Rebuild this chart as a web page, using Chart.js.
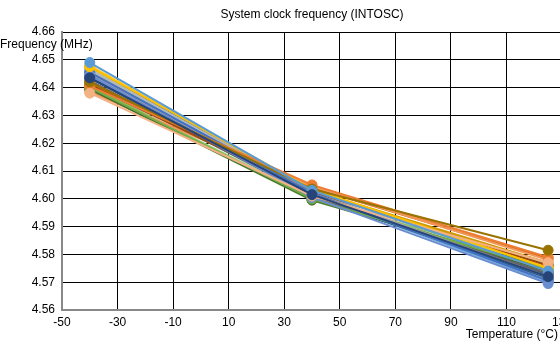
<!DOCTYPE html>
<html>
<head>
<meta charset="utf-8">
<script src="https://cdn.jsdelivr.net/npm/chart.js@4/dist/chart.umd.min.js"></script>
<style>
    html, body { margin: 0; padding: 0; background: #fff; overflow: hidden; }
    #wrap { width: 560px; height: 354px; overflow: hidden; }
    canvas { display: block; }
</style>
</head>
<body>
<div id="wrap">
    <canvas id="chart" width="624" height="354" style="width:624px;height:354px"></canvas>
</div>
<script>
const temps = [-40, 40, 125]
const xTicks = [-50, -30, -10, 10, 30, 50, 70, 90, 110, 130]

// one entry per device, frequency in MHz at each temperature
const freqMinus40 = [4.6435, 4.6490, 4.6380, 4.6420, 4.6405, 4.6475, 4.6445, 4.6455,
                     4.6450, 4.6400, 4.6410, 4.6425, 4.6445, 4.6395, 4.6385, 4.6465,
                     4.6480, 4.6465, 4.6405, 4.6435, 4.6415, 4.6435, 4.6455, 4.6475,
                     4.6395, 4.6455, 4.6440, 4.6470, 4.6465, 4.6405]
const freq40      = [4.6015, 4.6030, 4.6010, 4.6035, 4.6050, 4.6035, 4.6005, 4.6020,
                     4.6020, 4.6000, 4.6025, 4.6010, 4.6010, 4.5998, 4.6045, 4.6025,
                     4.6030, 4.6015, 4.6000, 4.6015, 4.6040, 4.6010, 4.6030, 4.6025,
                     4.5995, 4.6015, 4.6015, 4.6030, 4.6020, 4.6005]
const freq125     = [4.5720, 4.5740, 4.5770, 4.5815, 4.5790, 4.5750, 4.5695, 4.5705,
                     4.5720, 4.5745, 4.5760, 4.5730, 4.5715, 4.5740, 4.5780, 4.5710,
                     4.5755, 4.5700, 4.5765, 4.5725, 4.5785, 4.5735, 4.5770, 4.5705,
                     4.5750, 4.5715, 4.5735, 4.5760, 4.5720, 4.5755]
const colors      = ['#264478', '#5B9BD5', '#F4B183', '#997300', '#ED7D31', '#FFC000',
                     '#698ED0', '#4472C4', '#A5A5A5', '#70AD47', '#9E480E', '#636363',
                     '#255E91', '#43682B', '#F1975A', '#B7B7B7', '#FFCD33', '#7CAFDD',
                     '#8CC168', '#335AA1', '#D26012', '#848484', '#CC9A00', '#327DC2',
                     '#5A8A39', '#8FAADC', '#C9C9C9', '#FFD966', '#9DC3E6', '#A9D18E']

const datasets = colors.map((c, i) => ({
    label: 'Device ' + (i + 1),
    data: [
        { x: temps[0], y: freqMinus40[i] },
        { x: temps[1], y: freq40[i] },
        { x: temps[2], y: freq125[i] }
    ],
    borderColor: c,
    backgroundColor: c,
    pointBackgroundColor: c,
    pointBorderColor: c,
    pointRadius: 5,
    pointBorderWidth: 1,
    borderWidth: 2,
    tension: 0
}))

const FONT = '"Liberation Sans", Arial, sans-serif'

const labelsPlugin = {
    id: 'labels',
    afterDraw(chart) {
        const ctx = chart.ctx
        ctx.save()
        ctx.fillStyle = '#000'
        ctx.font = '12px ' + FONT
        ctx.textBaseline = 'middle'
        ctx.textAlign = 'center'
        ctx.fillText('System clock frequency (INTOSC)', 312, 15)
        ctx.textAlign = 'left'
        ctx.fillText('Frequency (MHz)', 0, 45)
        ctx.textAlign = 'right'
        ctx.fillText('Temperature (°C)', 558, 335)
        ctx.restore()
    }
}

new Chart(document.getElementById('chart'), {
    type: 'line',
    data: { datasets },
    plugins: [labelsPlugin],
    options: {
        responsive: false,
        animation: false,
        devicePixelRatio: 1,
        layout: { padding: { top: 32, right: 62, left: 0, bottom: 0 } },
        plugins: {
            legend: { display: false },
            title: { display: false },
            tooltip: { enabled: false }
        },
        scales: {
            x: {
                type: 'linear',
                min: -50,
                max: 130,
                afterBuildTicks: axis => { axis.ticks = xTicks.map(v => ({ value: v })) },
                afterFit: axis => { axis.height = 44 },
                grid: { color: '#000', lineWidth: 1, drawTicks: false },
                border: { color: '#888', width: 2 },
                ticks: { color: '#000', font: { size: 12, family: FONT }, padding: 5, maxRotation: 0 }
            },
            y: {
                min: 4.56,
                max: 4.66,
                afterFit: axis => { axis.width = 62 },
                grid: { color: '#000', lineWidth: 1, drawTicks: false },
                border: { color: '#888', width: 2 },
                ticks: {
                    stepSize: 0.01,
                    color: '#000',
                    font: { size: 12, family: FONT },
                    padding: 7,
                    callback: v => v.toFixed(2)
                }
            }
        }
    }
})
</script>
</body>
</html>
